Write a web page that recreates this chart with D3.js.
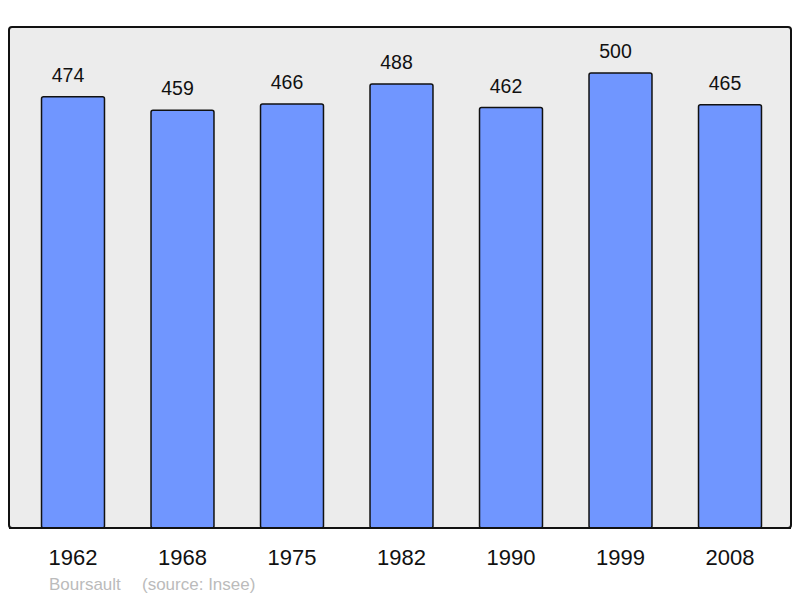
<!DOCTYPE html>
<html>
<head>
<meta charset="utf-8">
<script src="https://cdn.jsdelivr.net/npm/d3@7"></script>
<style>
  body { margin: 0; background: #fff; }
  text { font-family: "Liberation Sans", Arial, sans-serif; }
</style>
</head>
<body>
<div id="chart"></div>
<script>
var years = ["1962", "1968", "1975", "1982", "1990", "1999", "2008"];
var population = [474, 459, 466, 488, 462, 500, 465];
var yDomain = [0, 550];
var townName = "Boursault";
var sourceText = "(source: Insee)";

var width = 800, height = 598;
var frame = { left: 9, top: 27, right: 791, bottom: 528 };

var svg = d3.select("#chart").append("svg")
  .attr("width", width)
  .attr("height", height);

// background frame
svg.append("rect")
  .attr("x", frame.left)
  .attr("y", frame.top)
  .attr("width", frame.right - frame.left)
  .attr("height", frame.bottom - frame.top)
  .attr("rx", 3)
  .attr("fill", "#ececec")
  .attr("stroke", "#111")
  .attr("stroke-width", 2);

var x = d3.scaleBand()
  .domain(years)
  .range([18.25, 784.75])
  .paddingInner(0.425)
  .paddingOuter(0.2125);

var y = d3.scaleLinear()
  .domain(yDomain)
  .range([frame.bottom, frame.bottom - 0.91 * yDomain[1]]);

var data = years.map(function (yr, i) {
  return { year: yr, value: population[i] };
});

// bars
svg.append("g").selectAll("rect")
  .data(data)
  .enter()
  .append("rect")
  .attr("x", function (d) { return x(d.year); })
  .attr("y", function (d) { return y(d.value); })
  .attr("width", x.bandwidth())
  .attr("height", function (d) { return y(0) - y(d.value); })
  .attr("rx", 2)
  .attr("fill", "#7096ff")
  .attr("stroke", "#111")
  .attr("stroke-width", 1.5);

// value labels (sit a little left of the bar centre, as in the original)
svg.append("g").selectAll("text")
  .data(data)
  .enter()
  .append("text")
  .attr("x", function (d) { return x(d.year) + x.bandwidth() / 2 - 5; })
  .attr("y", function (d) { return y(d.value) - 15; })
  .attr("text-anchor", "middle")
  .attr("font-size", 19.5)
  .attr("fill", "#111")
  .text(function (d) { return d.value; });

// redraw frame edge on top of bar bottoms
svg.append("line")
  .attr("x1", frame.left).attr("x2", frame.right)
  .attr("y1", frame.bottom).attr("y2", frame.bottom)
  .attr("stroke", "#111")
  .attr("stroke-width", 2);

// year axis
var xAxis = svg.append("g")
  .attr("transform", "translate(0," + frame.bottom + ")")
  .call(d3.axisBottom(x).tickSize(0).tickPadding(21));
xAxis.select(".domain").remove();
xAxis.selectAll("text")
  .attr("font-size", 22)
  .attr("fill", "#111")
  .style("font-family", "'Liberation Sans', Arial, sans-serif");

// source line
svg.append("text")
  .attr("x", 49)
  .attr("y", 590)
  .attr("font-size", 17)
  .attr("fill", "#bbb")
  .text(townName);
svg.append("text")
  .attr("x", 142)
  .attr("y", 590)
  .attr("font-size", 17)
  .attr("fill", "#bbb")
  .text(sourceText);
</script>
</body>
</html>
